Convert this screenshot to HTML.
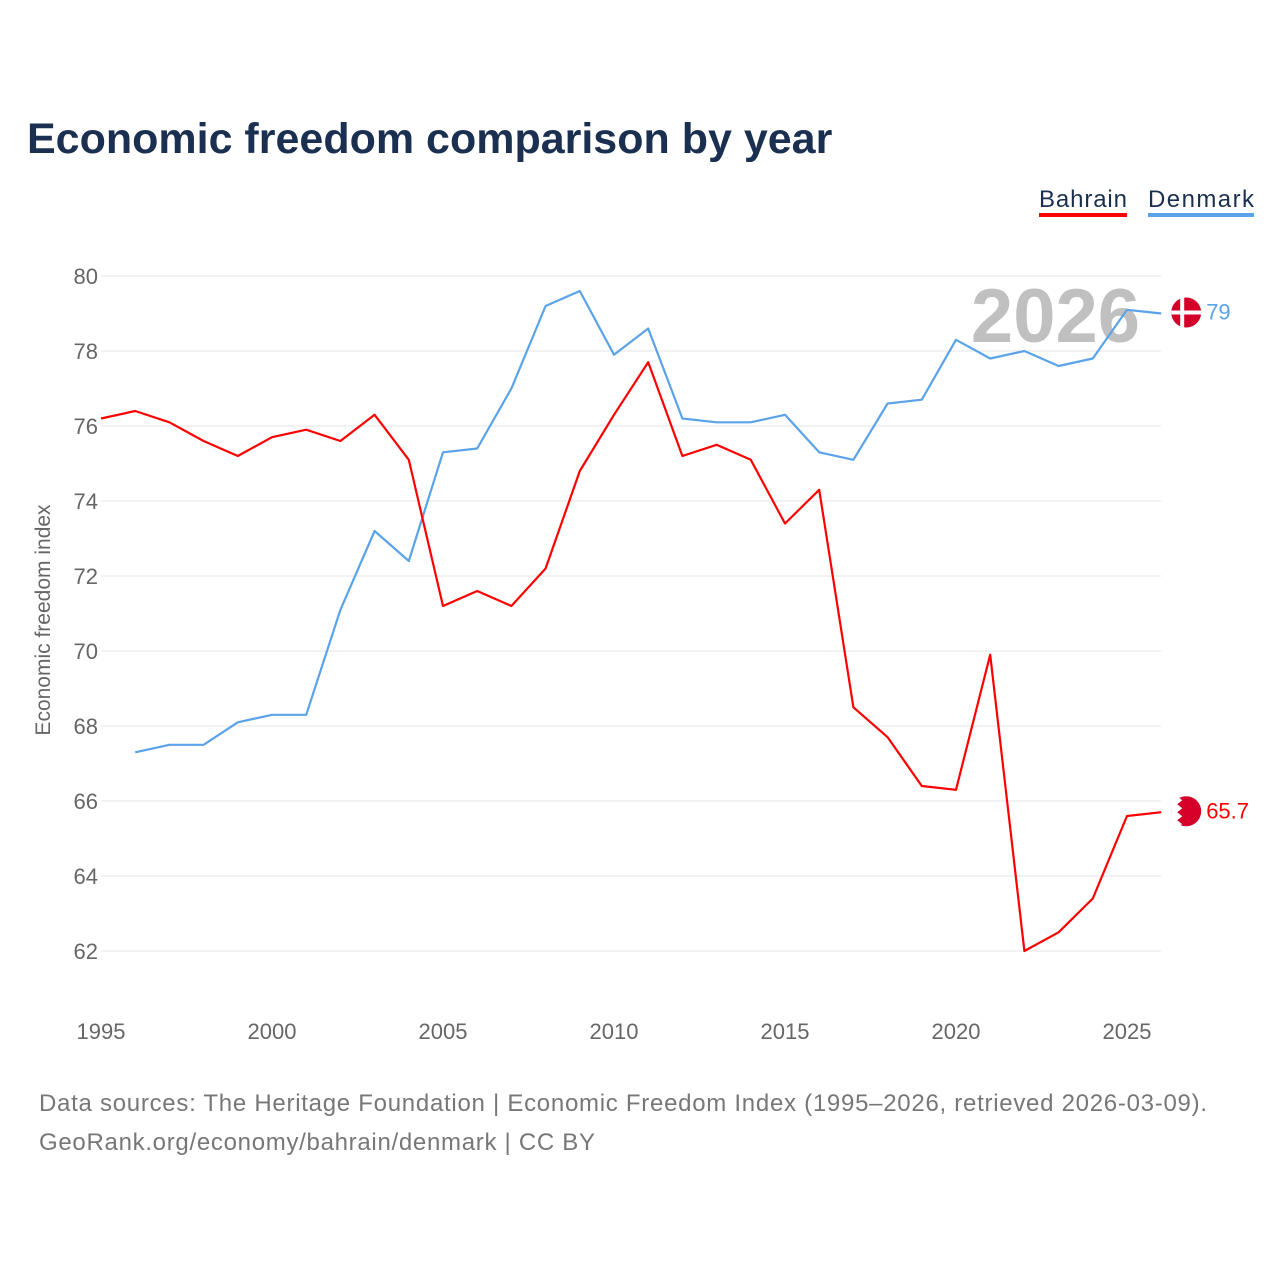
<!DOCTYPE html>
<html><head><meta charset="utf-8">
<style>
body{margin:0;background:#fff;font-family:"Liberation Sans",sans-serif;}
svg text{font-family:"Liberation Sans",sans-serif;}
</style></head>
<body>
<svg width="1280" height="1280" id="chart">
<text x="27" y="153" font-size="43" font-weight="bold" fill="#1b3050">Economic freedom comparison by year</text>
<g><text x="1039" y="207" font-size="24" fill="#1b3050" textLength="88">Bahrain</text><rect x="1039" y="213" width="88" height="4" fill="#f00"/></g>
<g><text x="1148" y="207" font-size="24" fill="#1b3050" textLength="106">Denmark</text><rect x="1148" y="213" width="106" height="4" fill="#5ba3e8"/></g>
<text x="1140" y="342" font-size="76" font-weight="bold" fill="#c0c0c0" text-anchor="end">2026</text>
<text transform="translate(50,620) rotate(-90)" font-size="21" fill="#666" text-anchor="middle">Economic freedom index</text>
<g id="grid"></g><g id="lines"></g>
<text x="39" y="1111" font-size="24" fill="#777" textLength="1168">Data sources: The Heritage Foundation | Economic Freedom Index (1995–2026, retrieved 2026-03-09).</text>
<text x="39" y="1150" font-size="24" fill="#777" textLength="556">GeoRank.org/economy/bahrain/denmark | CC BY</text>
</svg>
<script>
const years=[1995,1996,1997,1998,1999,2000,2001,2002,2003,2004,2005,2006,2007,2008,2009,2010,2011,2012,2013,2014,2015,2016,2017,2018,2019,2020,2021,2022,2023,2024,2025,2026];
const bahrain=[76.2,76.4,76.1,75.6,75.2,75.7,75.9,75.6,76.3,75.1,71.2,71.6,71.2,72.2,74.8,76.3,77.7,75.2,75.5,75.1,73.4,74.3,68.5,67.7,66.4,66.3,69.9,62.0,62.5,63.4,65.6,65.7];
const denmark=[null,67.3,67.5,67.5,68.1,68.3,68.3,71.1,73.2,72.4,75.3,75.4,77.0,79.2,79.6,77.9,78.6,76.2,76.1,76.1,76.3,75.3,75.1,76.6,76.7,78.3,77.8,78.0,77.6,77.8,79.1,79.0];
const yTicks=[62,64,66,68,70,72,74,76,78,80];
const xTicks=[1995,2000,2005,2010,2015,2020,2025];
const NS='http://www.w3.org/2000/svg';
const x=v=>101+(v-1995)*(1127-101)/30;
const y=v=>276+(80-v)*(951-276)/18;
const grid=document.getElementById('grid'),lines=document.getElementById('lines');
function mk(tag,attrs,parent){const e=document.createElementNS(NS,tag);for(const k in attrs)e.setAttribute(k,attrs[k]);parent.appendChild(e);return e;}
yTicks.forEach(t=>{
 const l=mk('line',{x1:101,x2:1161,y1:y(t),y2:y(t),stroke:'#e6e6e6','stroke-width':1},grid);
 
 
 const tx=mk('text',{x:98,y:y(t)+8,'font-size':22,fill:'#666','text-anchor':'end'},grid);tx.textContent=t;
 
 
});
xTicks.forEach(t=>{
 const tx=mk('text',{x:x(t),y:1039,'font-size':22,fill:'#666','text-anchor':'middle'},grid);tx.textContent=t;
 
 
});
function series(vals,color,name){
 const pts=[];vals.forEach((v,i)=>{if(v!=null)pts.push(x(years[i]).toFixed(1)+','+y(v).toFixed(1));});
 const p=mk('polyline',{points:pts.join(' '),fill:'none',stroke:color,'stroke-width':2.2,'stroke-linejoin':'round'},lines);
 
 
 const last=vals[vals.length-1],cx=x(years[years.length-1])+25,cy=y(last)-1;
 const c=mk('circle',{cx:cx,cy:cy,r:15,fill:'#d40029'},lines);
 
 
 if(name==='denmark'){mk('rect',{x:cx-15,y:cy-2,width:30,height:4,fill:'#fff'},lines);mk('rect',{x:cx-6,y:cy-15,width:4,height:30,fill:'#fff'},lines);}
 else{mk('path',{d:`M${cx-15},${cy-15} L${cx-9},${cy-15} L${cx-4},${cy-11} L${cx-9},${cy-7} L${cx-4},${cy-3} L${cx-9},${cy+1} L${cx-4},${cy+5} L${cx-9},${cy+9} L${cx-4},${cy+13} L${cx-9},${cy+15} L${cx-15},${cy+15} Z`,fill:'#fff'},lines);}
 const t=mk('text',{x:cx+20,y:cy+7,'font-size':22,fill:color},lines);t.textContent=last;
 
 
}
series(denmark,'#5ba3e8','denmark');
series(bahrain,'#f00','bahrain');
</script>
</body></html>
